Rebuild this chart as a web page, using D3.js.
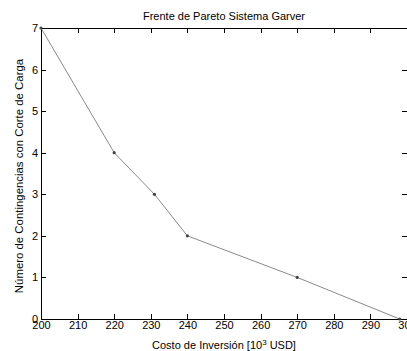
<!DOCTYPE html>
<html>
<head>
<meta charset="utf-8">
<script src="https://cdn.jsdelivr.net/npm/d3@7"></script>
<style>
  body { margin: 0; background: #fff; }
  text { font-family: "Liberation Sans", Arial, sans-serif; }
  .axis path, .axis line { stroke: #000; shape-rendering: crispEdges; }
  .axis text { font-size: 11px; fill: #000; }
</style>
</head>
<body>
<div id="chart"></div>
<script>
const costo = [200, 220, 231, 240, 270, 298];
const contingencias = [7, 4, 3, 2, 1, 0];
const xTicks = [200, 210, 220, 230, 240, 250, 260, 270, 280, 290, 300];
const yTicks = [0, 1, 2, 3, 4, 5, 6, 7];

const W = 407, H = 351,
      margin = {top: 28, left: 41, right: 0, bottom: 32},
      width = 366,
      height = 291;

const svg = d3.select('#chart').append('svg')
    .attr('width', W)
    .attr('height', H)
  .append('g')
    .attr('transform', 'translate(' + margin.left + ',' + margin.top + ')');

const x = d3.scaleLinear().domain([200, 300]).range([0, width]),
      y = d3.scaleLinear().domain([0, 7]).range([height, 0]);

// axes, ticks pointing inward
svg.append('g')
    .attr('class', 'axis')
    .attr('transform', 'translate(0,' + height + ')')
    .call(d3.axisBottom(x).tickValues(xTicks).tickFormat(d3.format('d'))
      .tickSizeInner(-5).tickSizeOuter(0).tickPadding(2));

svg.append('g')
    .attr('class', 'axis')
    .call(d3.axisTop(x).tickValues(xTicks).tickFormat('')
      .tickSizeInner(-5).tickSizeOuter(0));

svg.append('g')
    .attr('class', 'axis')
    .call(d3.axisLeft(y).tickValues(yTicks).tickFormat(d3.format('d'))
      .tickSizeInner(-5).tickSizeOuter(0).tickPadding(3));

svg.append('g')
    .attr('class', 'axis')
    .attr('transform', 'translate(' + width + ',0)')
    .call(d3.axisRight(y).tickValues(yTicks).tickFormat('')
      .tickSizeInner(-5).tickSizeOuter(0));

// pareto front
const pts = costo.map((c, i) => [c, contingencias[i]]);

svg.append('path')
    .datum(pts)
    .attr('fill', 'none')
    .attr('stroke', '#8a8a8a')
    .attr('stroke-width', 1)
    .attr('d', d3.line().x(d => x(d[0])).y(d => y(d[1])));

svg.selectAll('circle.pt')
    .data(pts)
    .enter()
    .append('circle')
      .attr('class', 'pt')
      .attr('cx', d => x(d[0]))
      .attr('cy', d => y(d[1]))
      .attr('r', 1.6)
      .attr('fill', '#444');

// title
svg.append('text')
    .attr('x', (W - margin.left) / 2)
    .attr('y', -8)
    .style('text-anchor', 'middle')
    .style('font-size', '11px')
    .text('Frente de Pareto Sistema Garver');

// x axis title
const xl = svg.append('text')
    .attr('x', (W - margin.left) / 2)
    .attr('y', height + 30)
    .style('text-anchor', 'middle')
    .style('font-size', '11px');
xl.append('tspan').text('Costo de Inversión [10');
xl.append('tspan').attr('dy', -4).style('font-size', '8px').text('3');
xl.append('tspan').attr('dy', 4).text(' USD]');

// y axis title
svg.append('text')
    .attr('transform', 'rotate(-90)')
    .attr('x', -148)
    .attr('y', -18)
    .style('text-anchor', 'middle')
    .style('font-size', '11.4px')
    .text('Número de Contingencias con Corte de Carga');
</script>
</body>
</html>
